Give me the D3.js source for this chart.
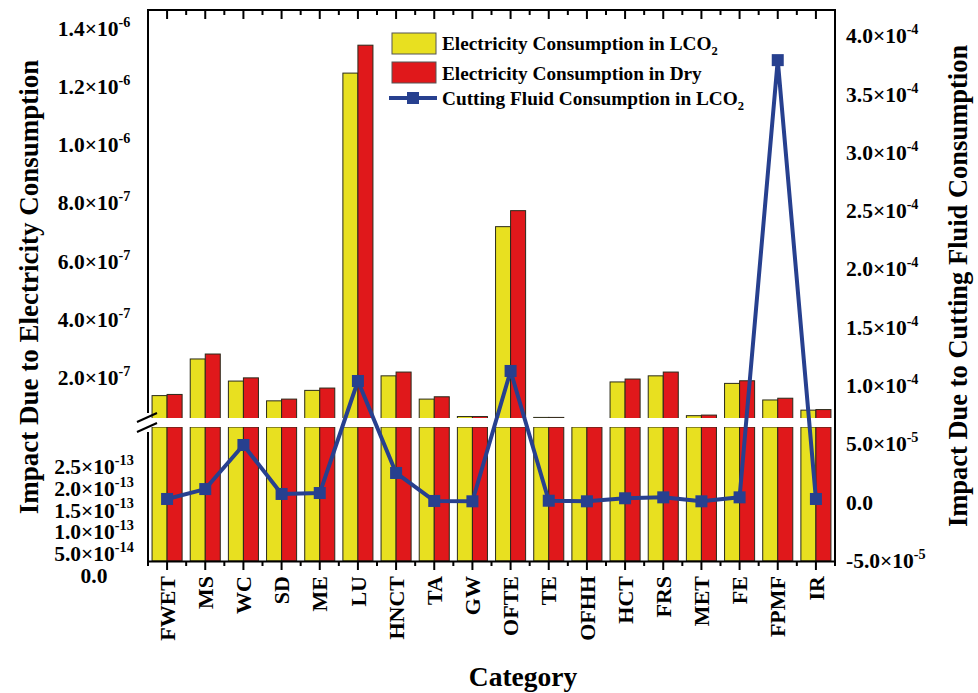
<!DOCTYPE html>
<html><head><meta charset="utf-8">
<script src="https://cdn.jsdelivr.net/npm/d3@7"></script>
<style>
html,body{margin:0;padding:0;background:#fff;}
</style></head>
<body><svg id="chart" width="978" height="693"></svg>
<script>
const categories = ["FWET","MS","WC","SD","ME","LU","HNCT","TA","GW","OFTE","TE","OFHH","HCT","FRS","MET","FE","FPMF","IR"];
const elecLCO2 = [1.37e-7,2.63e-7,1.87e-7,1.19e-7,1.55e-7,1.246e-6,2.05e-7,1.25e-7,6.5e-8,7.18e-7,6.2e-8,4.5e-8,1.84e-7,2.05e-7,6.8e-8,1.79e-7,1.22e-7,8.7e-8];
const elecDry  = [1.41e-7,2.80e-7,1.98e-7,1.25e-7,1.63e-7,1.342e-6,2.18e-7,1.33e-7,6.5e-8,7.73e-7,6.2e-8,4.5e-8,1.94e-7,2.18e-7,7.0e-8,1.88e-7,1.28e-7,8.9e-8];
const fluidLCO2 = [2.6e-6,1.11e-5,4.89e-5,6.9e-6,7.7e-6,1.038e-4,2.49e-5,9e-7,6e-7,1.124e-4,1.1e-6,6e-7,3.2e-6,4.0e-6,6e-7,4.0e-6,3.79e-4,2.6e-6];
const upperTicks = [2e-7,4e-7,6e-7,8e-7,1.0e-6,1.2e-6,1.4e-6];
const lowerTicks = [0,5e-14,1e-13,1.5e-13,2e-13,2.5e-13];
const rightTicks = [-5e-5,0,5e-5,1e-4,1.5e-4,2e-4,2.5e-4,3e-4,3.5e-4,4e-4];
const seriesNames = ["Electricity Consumption in LCO","Electricity Consumption in Dry","Cutting Fluid Consumption in LCO"];

const FONT = "'Liberation Serif', 'Times New Roman', serif";
const svg = d3.select("#chart").append("g").attr("font-family", FONT).attr("font-weight", "bold").style("font-family", FONT);
const L = 148, R = 835, T = 10, B = 561;
const breakTop = 418, breakBot = 427;
const colY = "#E8E020", colR = "#E0181B", colLine = "#27408F";

const x = d3.scaleBand().domain(categories).range([L, R]).paddingInner(0).paddingOuter(0);
const keys = ["lco2","dry"];
const x1 = d3.scaleBand().domain(keys).range([0, x.bandwidth()]).paddingInner(0).paddingOuter(0.27);
const upperY = d3.scaleLinear().domain([6.0e-8, 1.463e-6]).range([breakTop, T]);
const lowerY = d3.scaleLinear().domain([0, 3.41e-13]).range([575, breakBot]);
const rightY = d3.scaleLinear().domain([-5.06e-5, 4.22e-4]).range([B, T]);

const data = categories.map((c,i)=>({c, lco2: elecLCO2[i], dry: elecDry[i], fluid: fluidLCO2[i]}));
const colors = {lco2: colY, dry: colR};

const lowMax = lowerY.domain()[1];
const gBars = svg.append("g");
data.forEach(d=>{
  keys.forEach(k=>{
    const v = d[k];
    const xx = x(d.c) + x1(k);
    const yl = lowerY(Math.min(v, lowMax));
    gBars.append("rect").attr("x", xx).attr("y", yl).attr("width", x1.bandwidth()).attr("height", B - yl)
      .attr("fill", colors[k]).attr("stroke", "#2a2a1a").attr("stroke-width", 1);
    if (v > upperY.domain()[0]) {
      const yu = upperY(v);
      gBars.append("rect").attr("x", xx).attr("y", yu).attr("width", x1.bandwidth()).attr("height", breakTop + 4 - yu)
        .attr("fill", colors[k]).attr("stroke", "#2a2a1a").attr("stroke-width", 1);
    }
  });
});
svg.append("rect").attr("x", L - 1).attr("y", breakTop).attr("width", R - L).attr("height", breakBot - breakTop).attr("fill", "#fff");

// frame
svg.append("line").attr("x1", L).attr("x2", R).attr("y1", T).attr("y2", T).attr("stroke","#000").attr("stroke-width",2);
svg.append("line").attr("x1", R).attr("x2", R).attr("y1", T-1).attr("y2", B+1).attr("stroke","#000").attr("stroke-width",2);
svg.append("line").attr("x1", L).attr("x2", L).attr("y1", T-1).attr("y2", 413).attr("stroke","#000").attr("stroke-width",2);
svg.append("line").attr("x1", L).attr("x2", L).attr("y1", 432).attr("y2", B+1).attr("stroke","#000").attr("stroke-width",2);
svg.append("line").attr("x1", 137).attr("y1", 422).attr("x2", 157).attr("y2", 413).attr("stroke","#000").attr("stroke-width",2);
svg.append("line").attr("x1", 137).attr("y1", 432).attr("x2", 157).attr("y2", 423).attr("stroke","#000").attr("stroke-width",2);

// bottom axis
const gx = svg.append("g").attr("transform", `translate(0,${B})`)
  .call(d3.axisBottom(x).tickSizeInner(9).tickSizeOuter(0));
gx.attr("font-family", FONT);
gx.select(".domain").attr("stroke-width", 2);
gx.selectAll(".tick line").attr("stroke-width", 2);
gx.selectAll(".tick text").attr("transform","rotate(-90)").attr("x", -15).attr("y", 0).attr("dy","0.35em")
  .attr("text-anchor","end").attr("font-size", 22).attr("font-weight","bold").attr("fill","#000").style("font-family", FONT);
const bounds = categories.map(c=>x(c)).concat([R]);
svg.append("g").selectAll("line").data(bounds).join("line")
  .attr("x1", d=>d).attr("x2", d=>d).attr("y1", B).attr("y2", B+5).attr("stroke","#000").attr("stroke-width",2);
const gt = svg.append("g").attr("transform", `translate(0,${T})`)
  .call(d3.axisTop(x).tickSizeInner(-9).tickSizeOuter(0).tickFormat(""));
gt.select(".domain").remove();
gt.selectAll(".tick line").attr("stroke-width", 2);
svg.append("g").selectAll("line").data(bounds).join("line")
  .attr("x1", d=>d).attr("x2", d=>d).attr("y1", T).attr("y2", T+5).attr("stroke","#000").attr("stroke-width",2);

function sciLabel(sel, size){
  sel.each(function(v){
    const t = d3.select(this);
    t.text(null);
    if (v === 0) { t.append("tspan").text("0.0"); return; }
    const parts = v.toExponential(1).split("e");
    const ex = parseInt(parts[1], 10);
    t.append("tspan").text(parts[0] + "\u00D710");
    t.append("tspan").attr("dy", -size*0.42).attr("font-size", size*0.66).text(String(ex));
  });
}
function styleAxis(g, anchor, xoff, size){
  g.attr("font-family", FONT);
  g.select(".domain").remove();
  g.selectAll(".tick line").remove();
  g.selectAll(".tick text").attr("x", xoff).attr("dy", "0.33em").attr("text-anchor", anchor)
    .attr("font-size", size).attr("font-weight","bold").attr("fill","#000").style("font-family", FONT)
    .call(sciLabel, size);
}
const gu = svg.append("g").attr("transform", `translate(${L},0)`).call(d3.axisLeft(upperY).tickValues(upperTicks).tickSize(0));
styleAxis(gu, "middle", -54, 21.5);
const gl = svg.append("g").attr("transform", `translate(${L},0)`).call(d3.axisLeft(lowerY).tickValues(lowerTicks).tickSize(0));
styleAxis(gl, "middle", -54, 21.5);
const gr = svg.append("g").attr("transform", `translate(${R},0)`).call(d3.axisRight(rightY).tickValues(rightTicks).tickSize(0));
styleAxis(gr, "start", 11, 21.5);

// line series
const line = d3.line().x(d=>x(d.c) + x.bandwidth()/2).y(d=>rightY(d.fluid));
svg.append("path").datum(data).attr("d", line).attr("fill","none").attr("stroke", colLine).attr("stroke-width", 4).attr("stroke-linejoin","round");
svg.append("g").selectAll("rect").data(data).join("rect")
  .attr("x", d=>x(d.c) + x.bandwidth()/2 - 6).attr("y", d=>rightY(d.fluid) - 6).attr("width", 12).attr("height", 12).attr("fill", colLine);

// axis titles
function txt(){ return svg.append("text").style("font-family", FONT).attr("font-weight","bold").attr("fill","#000"); }
txt().attr("transform","translate(38,287) rotate(-90)").attr("text-anchor","middle").attr("font-size",27).text("Impact Due to Electricity Consumption");
txt().attr("transform","translate(967,286) rotate(-90)").attr("text-anchor","middle").attr("font-size",26.5).text("Impact Due to Cutting Fluid Consumption");
txt().attr("x", 523).attr("y", 686).attr("text-anchor","middle").attr("font-size",27.5).text("Category");

// legend
const lg = svg.append("g");
lg.append("rect").attr("x",392).attr("y",33).attr("width",44).attr("height",21).attr("fill",colY).attr("stroke","#555").attr("stroke-width",1);
lg.append("rect").attr("x",392).attr("y",62).attr("width",44).attr("height",21).attr("fill",colR).attr("stroke","#555").attr("stroke-width",1);
lg.append("line").attr("x1",389).attr("x2",437).attr("y1",98).attr("y2",98).attr("stroke",colLine).attr("stroke-width",4);
lg.append("rect").attr("x",407).attr("y",92).attr("width",12).attr("height",12).attr("fill",colLine);
const ly = [50, 80, 105];
seriesNames.forEach((n,i)=>{
  const t = txt().attr("x",442).attr("y",ly[i]).attr("font-size",19.3);
  t.append("tspan").text(n);
  if (i !== 1) t.append("tspan").attr("dy",5).attr("font-size",12.5).text("2");
});
</script></body></html>
